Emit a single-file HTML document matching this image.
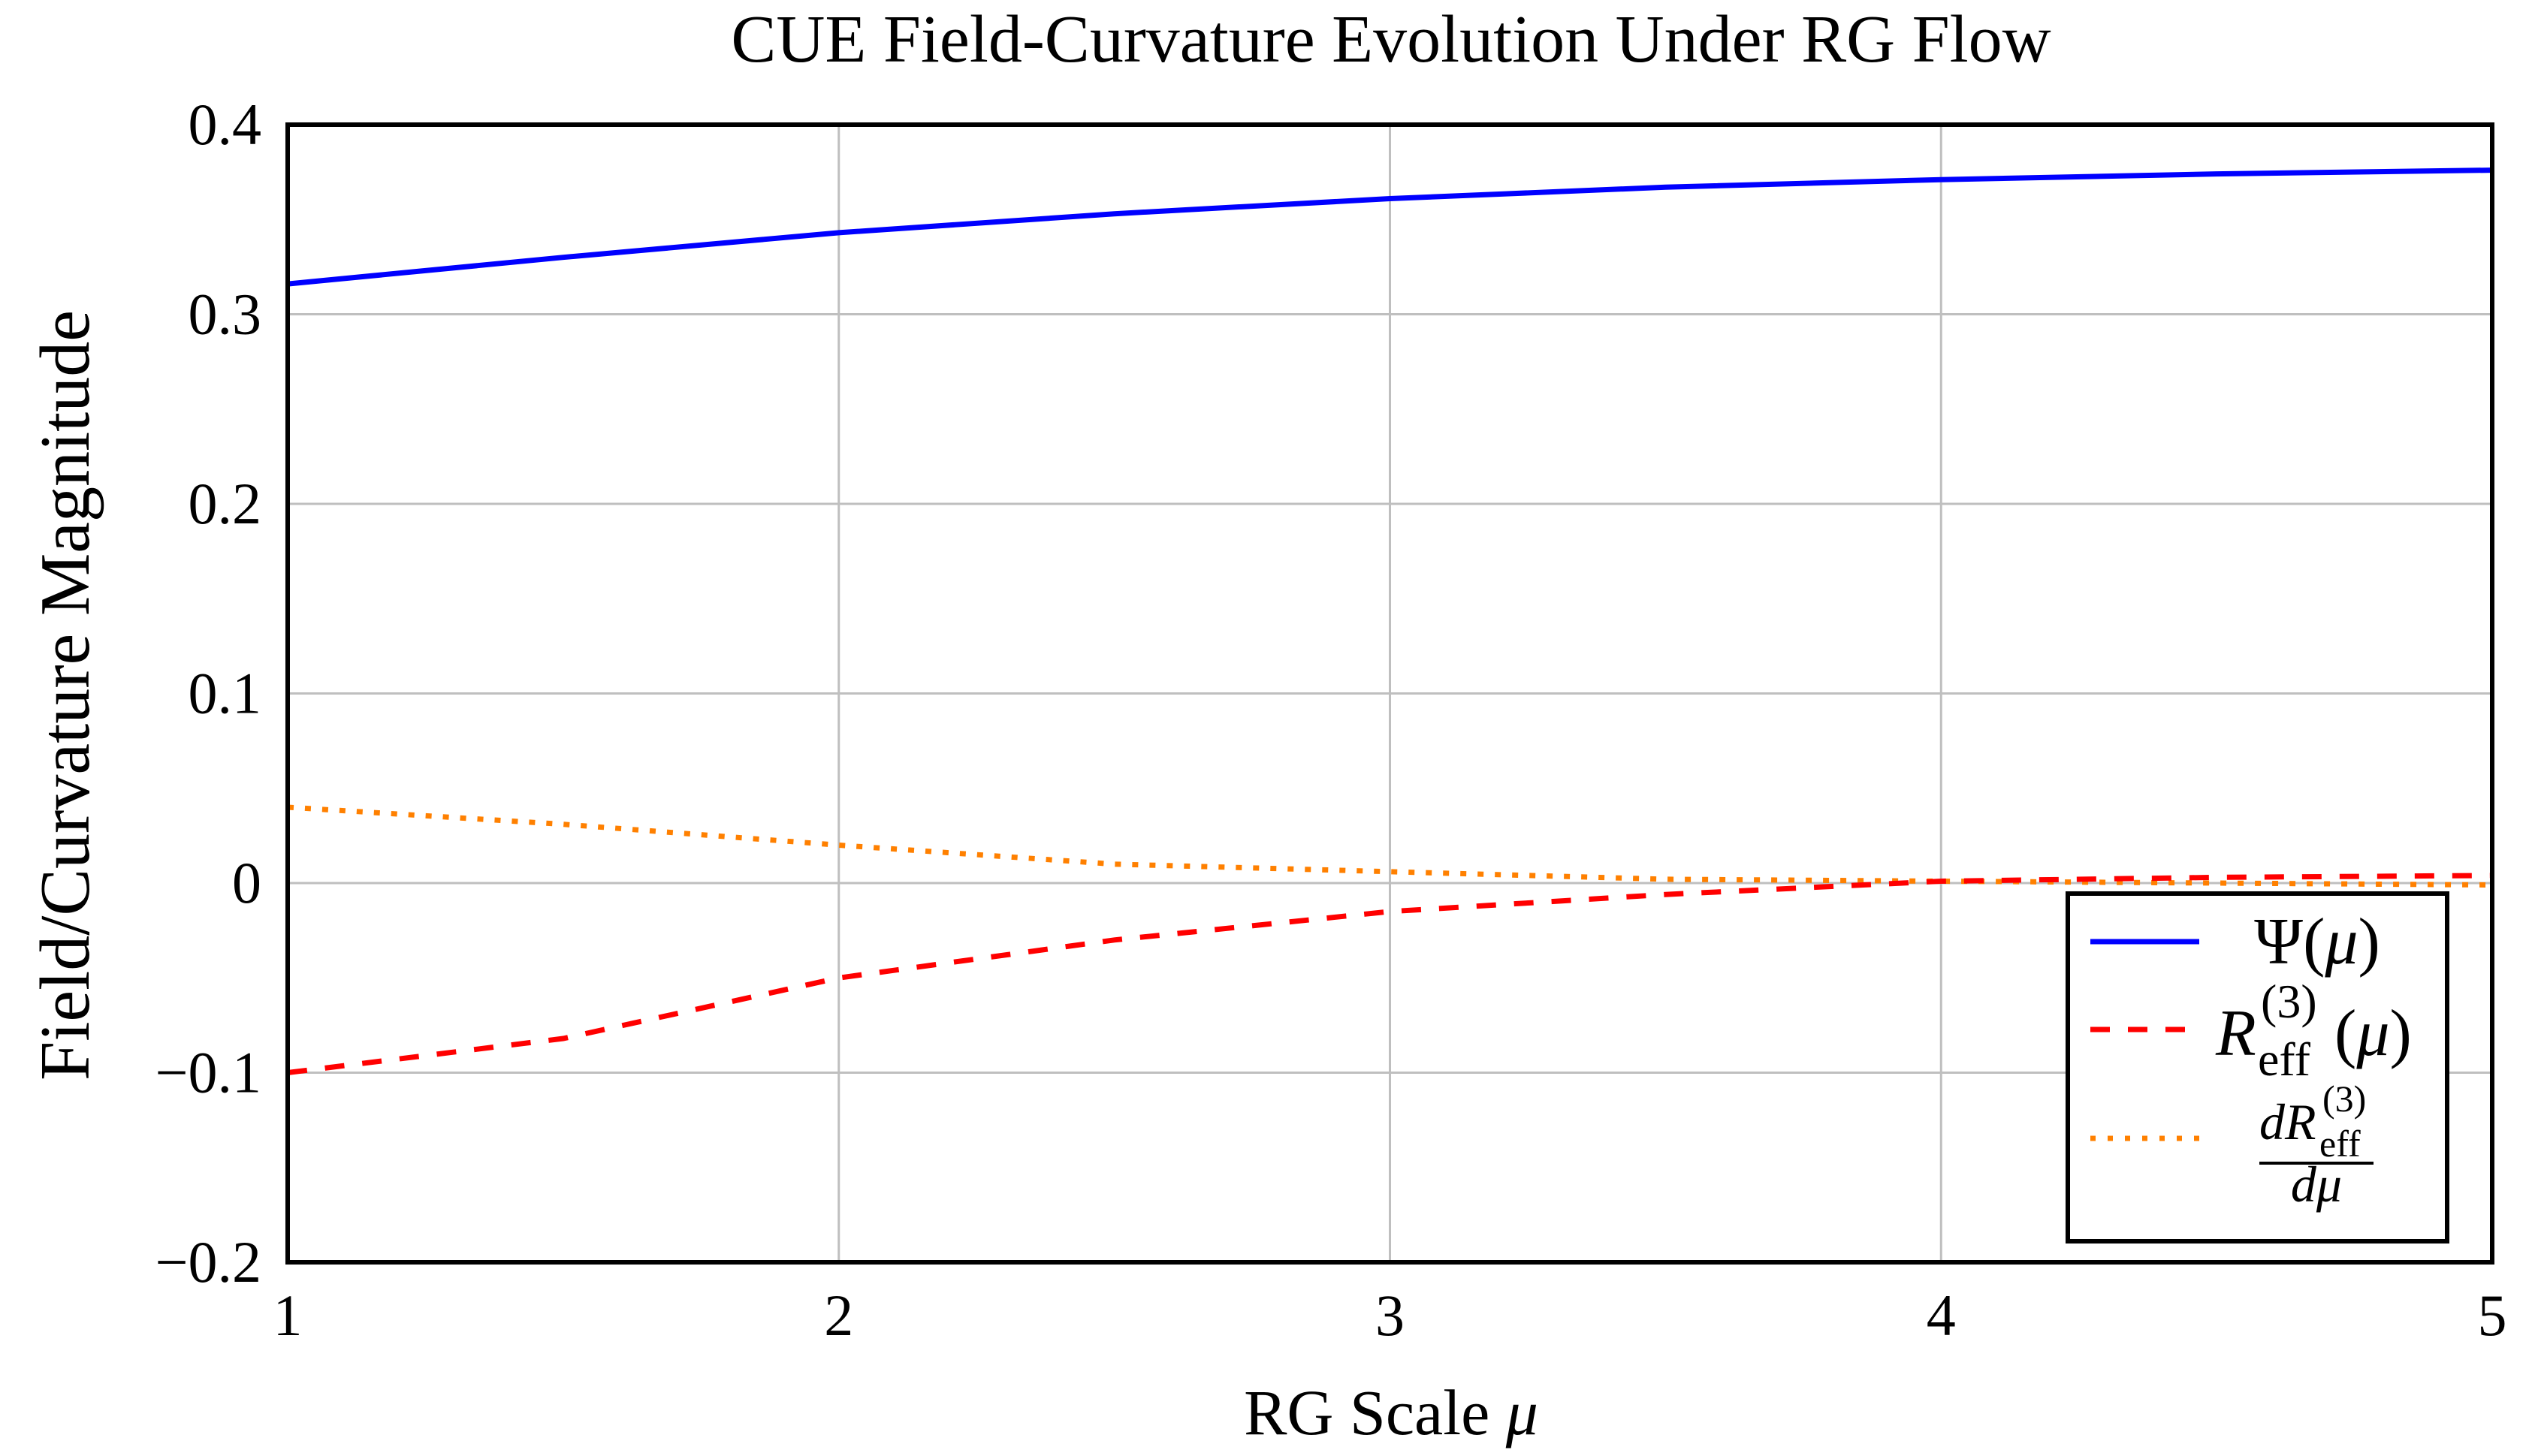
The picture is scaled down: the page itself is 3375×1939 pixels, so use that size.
<!DOCTYPE html>
<html><head><meta charset="utf-8"><style>
html,body{margin:0;padding:0;background:#fff;}
svg{display:block;}
text{font-family:"Liberation Serif",serif;fill:#000;}
</style></head><body>
<svg id="chart" width="3375" height="1939" viewBox="0 0 3375 1939" xmlns="http://www.w3.org/2000/svg">
<text x="1852" y="82" font-size="90" text-anchor="middle">CUE Field-Curvature Evolution Under RG Flow</text>
<g id="grid"></g>
<g id="series"></g>
<rect x="383" y="166" width="2935" height="1515" fill="none" stroke="#000" stroke-width="6"/>
<g id="ticks"></g>
<text x="1852" y="1910" font-size="86" text-anchor="middle">RG Scale <tspan font-style="italic">μ</tspan></text>
<text transform="translate(118,926) rotate(-90)" font-size="94" text-anchor="middle">Field/Curvature Magnitude</text>
<g>
<rect x="2753" y="1190" width="505" height="463" fill="#fff" stroke="#000" stroke-width="6"/>
<line x1="2783" y1="1254" x2="2928" y2="1254" stroke="#0000ff" stroke-width="7"/>
<text x="3085" y="1283" font-size="88" text-anchor="middle">Ψ(<tspan font-style="italic">μ</tspan>)</text>
<line x1="2783" y1="1371" x2="2928" y2="1371" stroke="#ff0000" stroke-width="7" stroke-dasharray="26,24"/>
<g>
<text x="2950" y="1405" font-size="88" font-style="italic">R</text>
<text x="3006" y="1432" font-size="64">eff</text>
<text x="3010" y="1355" font-size="64">(3)</text>
<text x="3108" y="1405" font-size="88">(<tspan font-style="italic">μ</tspan>)</text>
</g>
<line x1="2783" y1="1516" x2="2928" y2="1516" stroke="#ff8000" stroke-width="7" stroke-dasharray="7,16"/>
<g>
<text x="3008" y="1517" font-size="68" font-style="italic">dR</text>
<text x="3088" y="1540" font-size="50">eff</text>
<text x="3092" y="1480" font-size="50">(3)</text>
</g>
<line x1="3008" y1="1549" x2="3160" y2="1549" stroke="#000" stroke-width="4"/>
<text x="3084" y="1600" font-size="68" font-style="italic" text-anchor="middle">dμ</text>
</g>
</svg>
<script>
const xs = [1, 1.5, 2, 2.5, 3, 3.5, 4, 4.5, 5];
const psiVals = [0.316, 0.330, 0.343, 0.353, 0.361, 0.367, 0.371, 0.374, 0.376];
const rVals = [-0.100, -0.082, -0.050, -0.030, -0.015, -0.006, 0.001, 0.003, 0.004];
const drVals = [0.040, 0.031, 0.020, 0.010, 0.006, 0.002, 0.001, 0.000, -0.001];
const xTicks = [1, 2, 3, 4, 5];
const yTicks = [-0.2, -0.1, 0, 0.1, 0.2, 0.3, 0.4];
const yTickLabels = ["−0.2", "−0.1", "0", "0.1", "0.2", "0.3", "0.4"];

const NS = "http://www.w3.org/2000/svg";
const L = 383, R = 3318, T = 166, B = 1681;
function xScale(v){ return L + (v - 1) / 4 * (R - L); }
function yScale(v){ return B - (v + 0.2) / 0.6 * (B - T); }
function mk(tag, attrs, parent){
  const e = document.createElementNS(NS, tag);
  for (const k in attrs) e.setAttribute(k, attrs[k]);
  parent.appendChild(e);
  return e;
}
const grid = document.getElementById('grid');
const ticks = document.getElementById('ticks');
xTicks.forEach((t, i) => {
  const g = mk('line', {x1: xScale(t), x2: xScale(t), y1: T, y2: B, stroke: '#bfbfbf', 'stroke-width': 3}, grid);
  
  
  const tx = mk('text', {x: xScale(t), y: 1778, 'font-size': 78, 'text-anchor': 'middle'}, ticks);
  tx.textContent = String(t);
  
  
});
yTicks.forEach((t, i) => {
  const g = mk('line', {x1: L, x2: R, y1: yScale(t), y2: yScale(t), stroke: '#bfbfbf', 'stroke-width': 3}, grid);
  
  
  const tx = mk('text', {x: 348, y: yScale(t) + 26, 'font-size': 78, 'text-anchor': 'end'}, ticks);
  tx.textContent = yTickLabels[i];
  
  
});
function pathFor(vals){
  return vals.map((v, i) => (i ? 'L' : 'M') + xScale(xs[i]).toFixed(1) + ',' + yScale(v).toFixed(1)).join(' ');
}
const s = document.getElementById('series');
const p1 = mk('path', {d: pathFor(drVals), fill: 'none', stroke: '#ff8000', 'stroke-width': 7, 'stroke-dasharray': '8,15'}, s);


const p2 = mk('path', {d: pathFor(rVals), fill: 'none', stroke: '#ff0000', 'stroke-width': 7, 'stroke-dasharray': '26,24'}, s);


const p3 = mk('path', {d: pathFor(psiVals), fill: 'none', stroke: '#0000ff', 'stroke-width': 7}, s);


</script>
</body></html>
